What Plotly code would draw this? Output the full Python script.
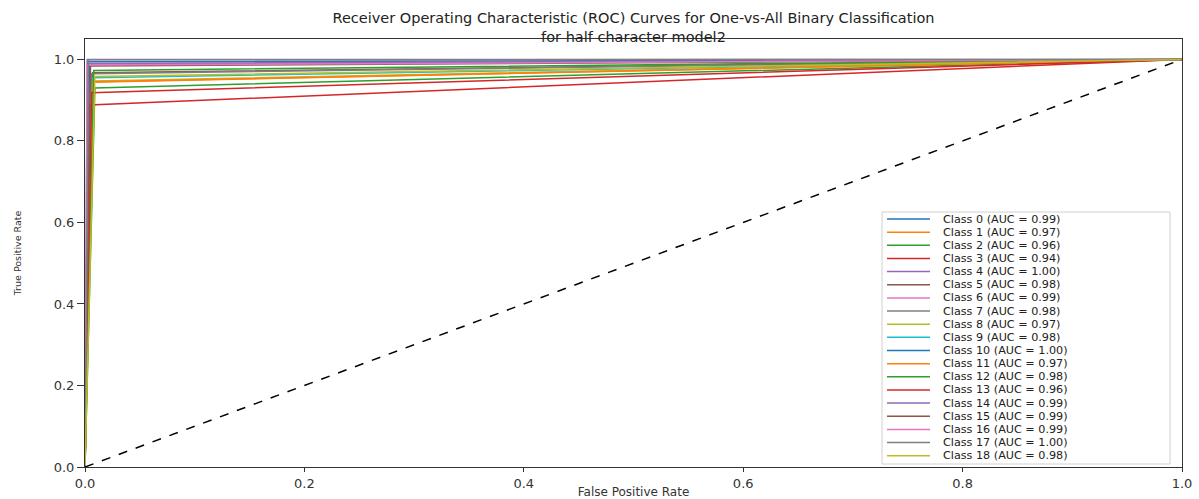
import plotly.graph_objects as go

# ---------------- data ----------------
class_names = [f"Class {i}" for i in range(19)]
auc_values = [0.99, 0.97, 0.96, 0.94, 1.00, 0.98, 0.99, 0.98, 0.97, 0.98,
              1.00, 0.97, 0.98, 0.96, 0.99, 0.99, 0.99, 1.00, 0.98]
# knee point of each one-vs-all ROC curve (fpr, tpr); curves run (0,0) -> knee -> (1,1)
knee_fpr = [0.004, 0.006, 0.009, 0.0045, 0.002, 0.007, 0.003, 0.006, 0.008, 0.007,
            0.003, 0.007, 0.008, 0.006, 0.003, 0.005, 0.002, 0.003, 0.009]
knee_tpr = [0.988, 0.944, 0.930, 0.888, 1.000, 0.967, 0.987, 0.965, 0.947, 0.955,
            0.994, 0.945, 0.973, 0.918, 0.990, 0.984, 0.986, 0.999, 0.958]
x_ticks = [0.0, 0.2, 0.4, 0.6, 0.8, 1.0]
y_ticks = [0.0, 0.2, 0.4, 0.6, 0.8, 1.0]

colors = ["#1f77b4", "#ff7f0e", "#2ca02c", "#d62728", "#9467bd",
          "#8c564b", "#e377c2", "#7f7f7f", "#bcbd22", "#17becf"]

W, H = 1199, 499
L, R, T, B = 85, 17, 39, 32
PW, PH = W - L - R, H - T - B

fig = go.Figure()
for i, name in enumerate(class_names):
    fig.add_trace(go.Scatter(
        x=[0.0, knee_fpr[i], 1.0], y=[0.0, knee_tpr[i], 1.0],
        mode="lines", name=f"{name} (AUC = {auc_values[i]:.2f})",
        line=dict(color=colors[i % 10], width=1.5), showlegend=False))
fig.add_trace(go.Scatter(x=[0, 1], y=[0, 1], mode="lines",
                         line=dict(color="black", width=1.5, dash="dash"),
                         showlegend=False))

# ------------- custom compact legend (matplotlib-like) -------------
def px_x(p):
    return (p - L) / PW

def px_y(p):
    return (H - B - p) / PH

leg_left, leg_right, leg_top, leg_bottom = 882, 1170, 212, 464
shapes = [dict(type="rect", xref="paper", yref="paper",
               x0=px_x(leg_left), x1=px_x(leg_right),
               y0=px_y(leg_bottom), y1=px_y(leg_top),
               line=dict(color="#d0d0d0", width=1), fillcolor="rgba(255,255,255,0.85)",
               layer="above")]
annotations = []
first_y, step = 219, 13.15
for i, name in enumerate(class_names):
    yy = first_y + i * step
    shapes.append(dict(type="line", xref="paper", yref="paper",
                       x0=px_x(887), x1=px_x(930), y0=px_y(yy), y1=px_y(yy),
                       line=dict(color=colors[i % 10], width=1.5), layer="above"))
    annotations.append(dict(xref="paper", yref="paper", x=px_x(942), y=px_y(yy),
                            xanchor="left", yanchor="middle", showarrow=False,
                            borderpad=0,
                            text=f"{name} (AUC = {auc_values[i]:.2f})",
                            font=dict(family="DejaVu Sans", size=11.2, color="#222222")))

fig.update_layout(
    width=W, height=H,
    margin=dict(l=L, r=R, t=T, b=B, pad=0),
    paper_bgcolor="white", plot_bgcolor="white",
    title=dict(text="Receiver Operating Characteristic (ROC) Curves for One-vs-All Binary Classification<br>for half character model2",
               x=(L + PW / 2) / W, xanchor="center", y=1 - 23 / H, yanchor="middle",
               yref="container", xref="container",
               font=dict(family="DejaVu Sans", size=14.5, color="#222222")),
    font=dict(family="DejaVu Sans", color="#333333"),
    shapes=shapes, annotations=annotations,
    showlegend=False,
)
fig.update_xaxes(range=[0, 1], tickvals=x_ticks, ticktext=[f"{v:.1f}" for v in x_ticks],
                 automargin=False,
                 showgrid=False, zeroline=False, showline=True, mirror=True,
                 linecolor="#333333", linewidth=1, ticks="outside", ticklen=4,
                 tickcolor="#333333", tickfont=dict(size=13, family="DejaVu Sans"),
                 title=dict(text="False Positive Rate", standoff=0,
                            font=dict(size=12, family="DejaVu Sans")))
fig.update_yaxes(range=[0, 1.05], tickvals=y_ticks, ticktext=[f"{v:.1f}" for v in y_ticks],
                 automargin=False,
                 showgrid=False, zeroline=False, showline=True, mirror=True,
                 linecolor="#333333", linewidth=1, ticks="outside", ticklen=7,
                 tickcolor="#333333", tickfont=dict(size=13, family="DejaVu Sans"),
                 title=dict(text="True Positive Rate", standoff=30,
                            font=dict(size=9.5, family="DejaVu Sans")))

fig.write_html("out.html")
